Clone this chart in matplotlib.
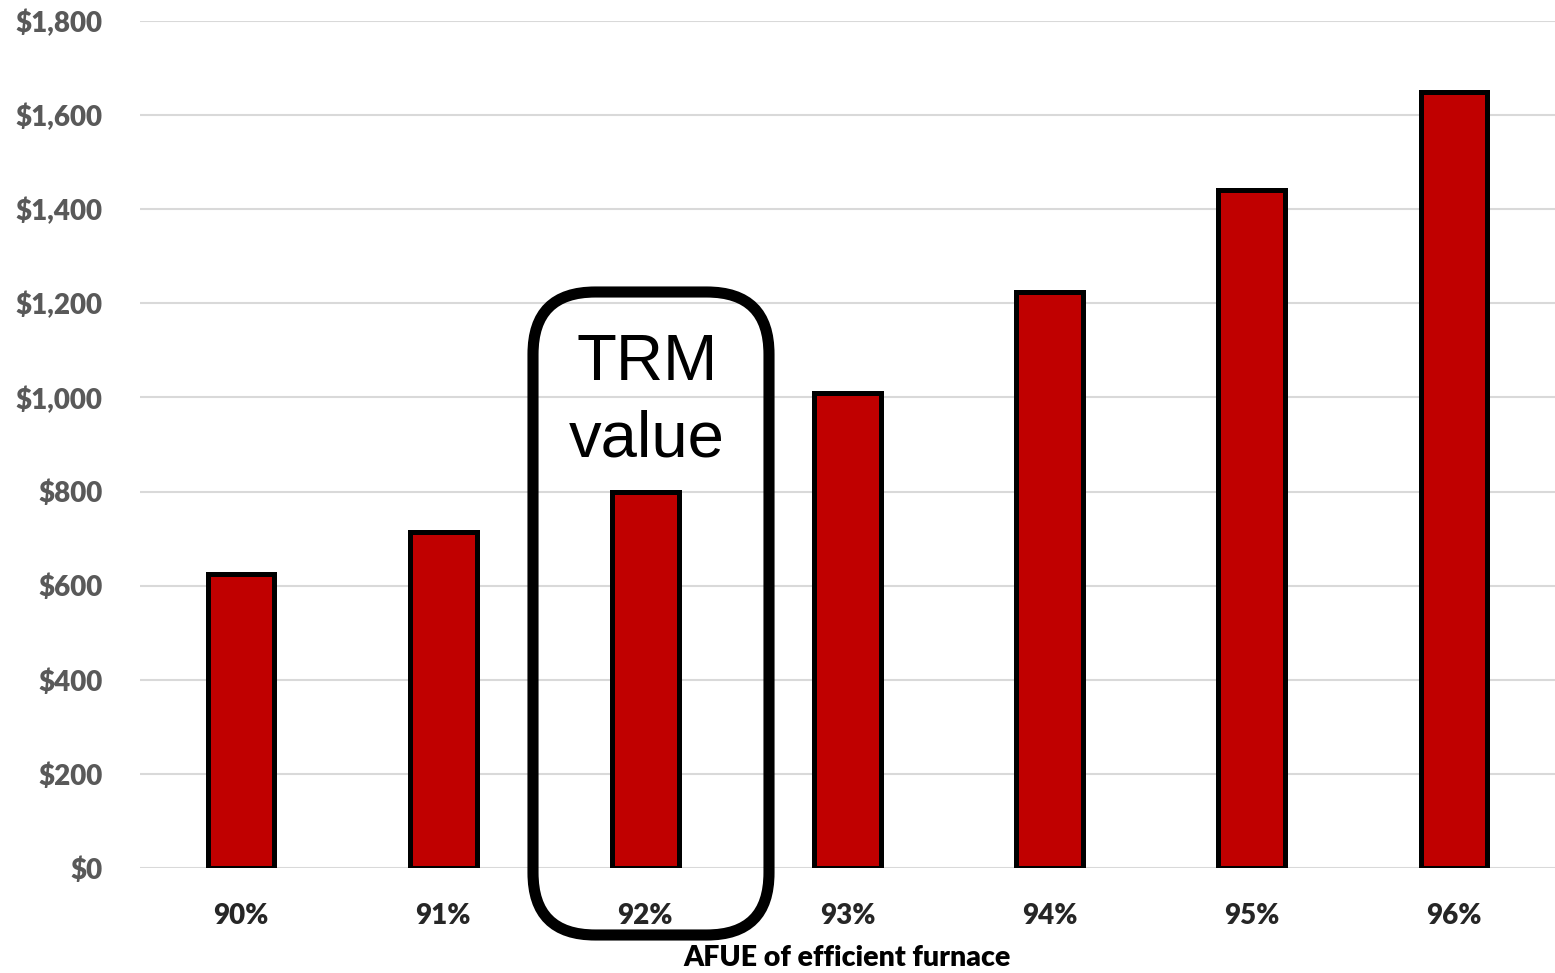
import matplotlib.pyplot as plt
import numpy as np
from matplotlib.patches import FancyBboxPatch
from matplotlib.ticker import FuncFormatter

# values
afue_labels = ["90%", "91%", "92%", "93%", "94%", "95%", "96%"]
savings = [625, 715, 800, 1010, 1225, 1440, 1650]
y_ticks = [0, 200, 400, 600, 800, 1000, 1200, 1400, 1600, 1800]

W, H = 1555, 973
fig = plt.figure(figsize=(W / 100, H / 100), dpi=100)
ax = fig.add_axes([140 / W, 105 / H, 1415 / W, 847 / H])

x = np.arange(len(afue_labels))
ax.bar(x, savings, width=0.33, color="#C00000", edgecolor="black", linewidth=3.6, zorder=3)

ax.set_xlim(-0.5, len(afue_labels) - 0.5)
ax.set_ylim(0, 1800)
ax.set_yticks(y_ticks)
ax.yaxis.set_major_formatter(FuncFormatter(lambda v, _: f"${v:,.0f}"))
ax.set_xticks(x)
ax.set_xticklabels(afue_labels)
ax.grid(axis="y", color="#D9D9D9", linewidth=1.5, zorder=0)
for s in ax.spines.values():
    s.set_visible(False)
ax.tick_params(length=0)
ax.tick_params(axis="y", pad=27, labelcolor="#595959")
ax.tick_params(axis="x", pad=25, labelcolor="#262626")
for lab in ax.get_yticklabels() + ax.get_xticklabels():
    lab.set_fontfamily("Lato")
    lab.set_fontweight("heavy")
    lab.set_fontsize(20)

ax.set_xlabel("AFUE of efficient furnace", fontfamily="Lato", fontweight="heavy",
              fontsize=20.5, color="black", labelpad=12)

# rounded box marking the TRM value
box = FancyBboxPatch((533 / W, (H - 935) / H), 236 / W, 643 / H,
                     boxstyle="round,pad=0,rounding_size=0.04",
                     transform=fig.transFigure, fill=False, edgecolor="black",
                     linewidth=8, mutation_aspect=W / H, zorder=5)
fig.add_artist(box)
fig.text(647 / W, (H - 401) / H, "TRM\nvalue", ha="center", va="center",
         fontfamily="Liberation Sans", fontsize=47, color="black", linespacing=1.35)

fig.savefig("out.png", dpi=100)
